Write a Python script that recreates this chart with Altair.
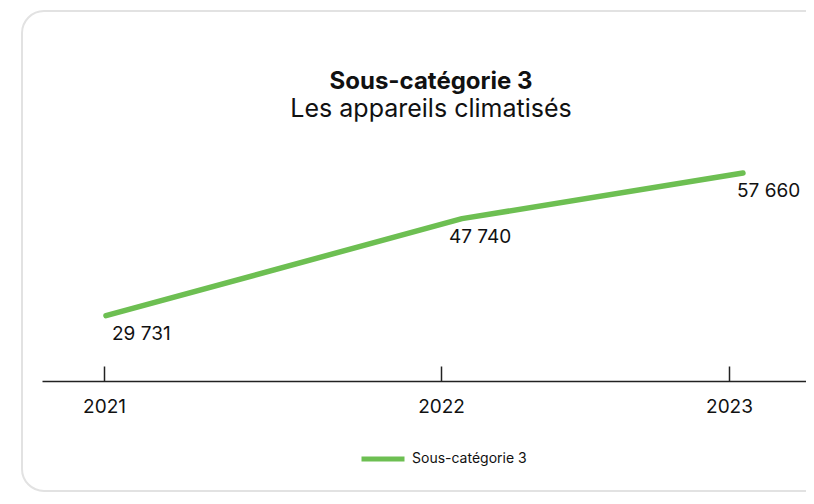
import altair as alt
import pandas as pd

# ---- data ----
years = [2021, 2022, 2023]
values = [29731, 47740, 57660]
series_name = "Sous-catégorie 3"
title_text = "Sous-catégorie 3"
subtitle_text = "Les appareils climatisés"

labels = [f"{v:,}".replace(",", " ") for v in values]
df = pd.DataFrame({
    "Année": years,
    "Valeur": values,
    "Série": [series_name] * len(years),
    "Libellé": labels,
})

FONT = "Inter"
GREEN = "#6dbf52"
INK = "#111111"
W, H = 818, 480

# scales (styling / layout)
tick_scale = alt.Scale(domain=[2020.8, 2021, 2022, 2023, 2023.4],
                       range=[20, 82, 419, 707, 818], nice=False, zero=False)
line_scale = alt.Scale(domain=years, range=[84, 440, 721], nice=False, zero=False)
y_scale = alt.Scale(type="sqrt", domain=[20000, 64000], range=[370, 135], nice=False, zero=False)

base = alt.Chart(df)
y_enc = alt.Y("Valeur:Q", scale=y_scale, axis=None)

text_layer = base.mark_text(
    align="left", baseline="top", dx=8, dy=9, fontSize=19, font=FONT, color=INK
).encode(
    x=alt.X("Année:Q", scale=tick_scale,
            axis=alt.Axis(values=years, format="d", orient="bottom", offset=370 - H,
                          ticks=False, tickSize=0, labelPadding=16,
                          domainColor="#222222", domainWidth=1.5,
                          labelFontSize=19, labelFont=FONT, labelColor=INK,
                          grid=False, title=None)),
    y=y_enc,
    text="Libellé:N",
)

tick_layer = base.mark_point(opacity=0).encode(
    x=alt.X("Année:Q", scale=tick_scale,
            axis=alt.Axis(values=years, orient="top", offset=-370, domain=False,
                          labels=False, ticks=True, tickSize=15, tickWidth=1.5,
                          tickColor="#222222", grid=False, title=None)),
    y=y_enc,
)

line_layer = base.mark_line(strokeWidth=5.5, strokeCap="round", strokeJoin="round").encode(
    x=alt.X("Année:Q", scale=line_scale, axis=None),
    y=y_enc,
    color=alt.Color("Série:N", scale=alt.Scale(range=[GREEN]),
                    legend=alt.Legend(orient="none", legendX=337, legendY=424, title=None,
                                      symbolType="stroke", symbolSize=1849,
                                      symbolStrokeWidth=5, labelFontSize=14,
                                      labelFont=FONT, labelColor=INK, labelOffset=5)),
)

chart = alt.layer(line_layer, text_layer, tick_layer).resolve_scale(
    x="independent"
).properties(
    width=W,
    height=H,
    title=alt.TitleParams(text=title_text, subtitle=subtitle_text, anchor="middle",
                          frame="group", offset=-111, fontSize=24, fontWeight="bold",
                          subtitleFontSize=25, subtitleFontWeight="normal",
                          color=INK, subtitleColor=INK, font=FONT, subtitleFont=FONT,
                          subtitlePadding=3),
    autosize=alt.AutoSizeParams(type="none"),
    padding={"left": 14, "top": 3, "right": -34, "bottom": 1},
    background="white",
).configure_view(
    stroke="#e2e2e2", strokeWidth=2, cornerRadius=22, fill="white"
)

chart.save("out.html", embed_options={"renderer": "svg", "actions": False})
